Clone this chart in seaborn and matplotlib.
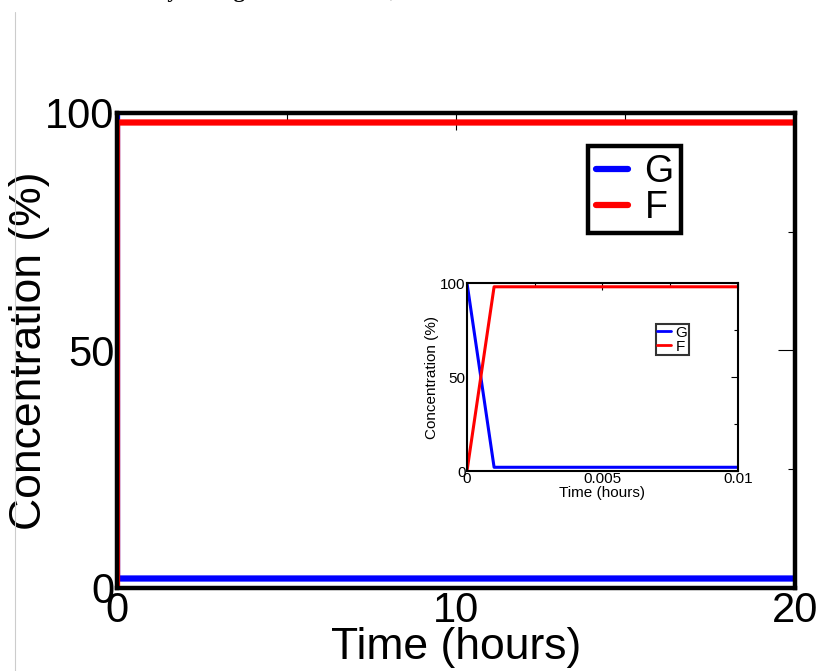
import matplotlib
matplotlib.use("Agg")
import matplotlib.pyplot as plt
import pandas as pd
import seaborn as sns
from matplotlib.lines import Line2D

# data
time_h = [0.0, 0.001, 20.0]
conc_G = [100.0, 2.0, 2.0]
conc_F = [0.0, 98.0, 98.0]
species = ["G", "F"]
colors = {"G": "#0000ff", "F": "#ff0000"}
x_ticks_main = [0, 10, 20]
y_ticks = [0, 50, 100]
x_ticks_inset = [0, 0.005, 0.01]
x_tick_labels_inset = ["0", "0.005", "0.01"]

df = pd.DataFrame({
    "time": time_h * 2,
    "conc": conc_G + conc_F,
    "species": ["G"] * len(time_h) + ["F"] * len(time_h),
})

sns.set_style("white")
plt.rcParams["font.family"] = ["Liberation Sans", "DejaVu Sans"]
plt.rcParams.update({"text.color": "black", "axes.labelcolor": "black",
                     "xtick.color": "black", "ytick.color": "black"})

fig = plt.figure(figsize=(8.2, 6.71), dpi=100)

# clipped caption from the page above the figure
fig.text(0.025, 1.0115, "was found always being accessible to G, in contrast to the structure and G F",
         family=["Liberation Serif", "DejaVu Serif"], fontweight="bold", fontsize=16,
         ha="left", va="center", color="black")
fig.add_artist(Line2D([0.018, 0.018], [0, 0.982], color="#cccccc", lw=0.8))


def style_axes(ax, spine_w, tick_len, minor_len, fs, pad):
    for s in ax.spines.values():
        s.set_linewidth(spine_w)
        s.set_color("black")
    ax.tick_params(which="both", direction="in", top=True, right=True,
                   width=0.8, color="black", labelsize=fs, pad=pad)
    ax.tick_params(which="major", length=tick_len)
    ax.tick_params(which="minor", length=minor_len)


# main axes
ax = fig.add_axes([0.1427, 0.1237, 0.8268, 0.7079])
sns.lineplot(data=df, x="time", y="conc", hue="species", hue_order=species,
             palette=colors, linewidth=4.5, ax=ax, legend=False, estimator=None, sort=False)
ax.set_xlim(0, 20)
ax.set_ylim(0, 100)
ax.set_xticks(x_ticks_main)
ax.set_yticks(y_ticks)
ax.set_xticks([5, 15], minor=True)
ax.set_yticks([25, 75], minor=True)
style_axes(ax, 3.2, 12, 5, 30, 2)
ax.set_xlabel("Time (hours)", fontsize=32, labelpad=-3)
ax.set_ylabel("Concentration (%)", fontsize=32, labelpad=-4)

handles = [Line2D([], [], color=colors[s], lw=4.5) for s in species]
leg = ax.legend(handles, species, loc="upper left", bbox_to_anchor=(0.695, 0.93),
                borderaxespad=0, fontsize=27, frameon=True, fancybox=False,
                handlelength=0.85, handletextpad=0.45, borderpad=0.2, labelspacing=0.0)
leg.get_frame().set_edgecolor("black")
leg.get_frame().set_linewidth(3.2)
leg.get_frame().set_alpha(1)

# inset axes
axi = fig.add_axes([0.5695, 0.298, 0.3305, 0.2802])
sns.lineplot(data=df, x="time", y="conc", hue="species", hue_order=species,
             palette=colors, linewidth=2.2, ax=axi, legend=False, estimator=None, sort=False)
axi.set_xlim(0, 0.01)
axi.set_ylim(0, 100)
axi.set_xticks(x_ticks_inset)
axi.set_xticklabels(x_tick_labels_inset)
axi.set_yticks(y_ticks)
axi.set_xticks([0.0025, 0.0075], minor=True)
axi.set_yticks([25, 75], minor=True)
style_axes(axi, 1.5, 5, 3, 11, 1)
axi.set_xlabel("Time (hours)", fontsize=11, labelpad=0)
axi.set_ylabel("Concentration (%)", fontsize=11, labelpad=1)

handles_i = [Line2D([], [], color=colors[s], lw=2) for s in species]
leg_i = axi.legend(handles_i, species, loc="upper left", bbox_to_anchor=(0.697, 0.782),
                   borderaxespad=0, fontsize=11, frameon=True, fancybox=False,
                   handlelength=0.9, handletextpad=0.3, borderpad=0.1, labelspacing=0.0)
leg_i.get_frame().set_edgecolor("black")
leg_i.get_frame().set_linewidth(1.5)

fig.savefig("out.png", dpi=100)
